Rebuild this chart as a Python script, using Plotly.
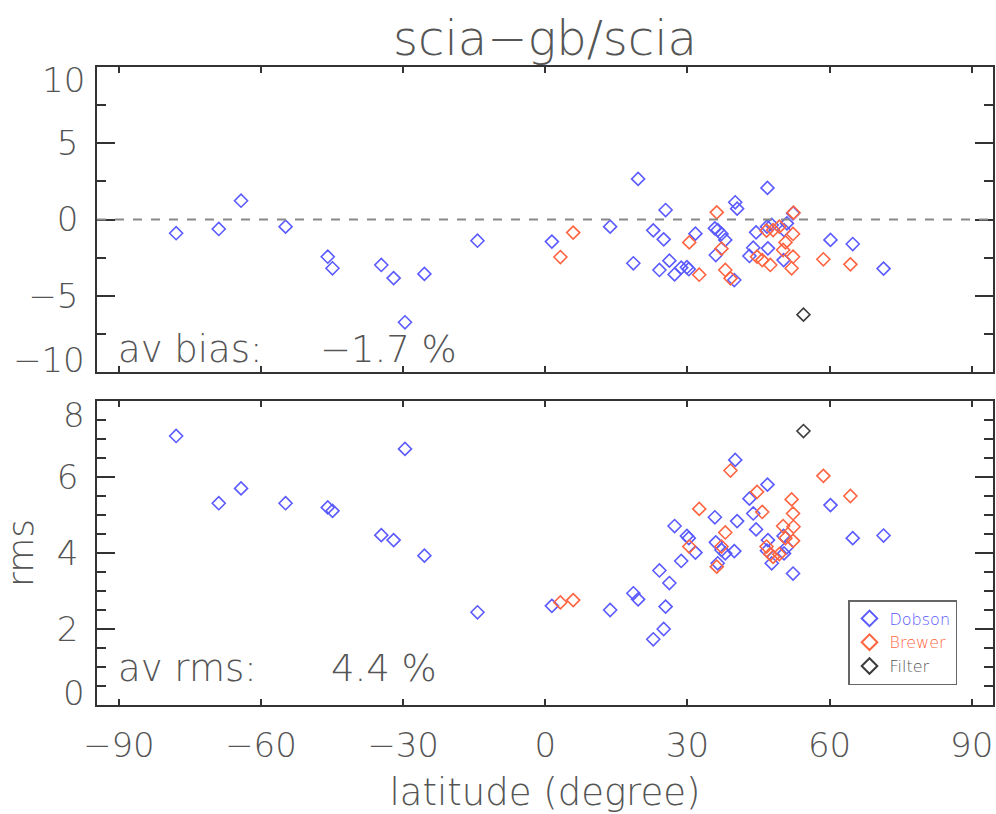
import plotly.graph_objects as go

# ---------------- data ----------------
dobson_lat = [-77.9, -68.9, -64.2, -54.8, -45.9, -44.9, -34.6, -32.0, -29.6, -25.5, -14.3,
              1.4, 13.7, 18.6, 19.6, 22.8, 24.1, 25.0, 25.4, 26.2, 27.3, 28.7, 29.9, 30.3, 31.7,
              35.8, 36.0, 36.4, 37.2, 38.0, 39.9, 40.1, 40.5, 43.1, 43.9, 44.5,
              46.8, 46.9, 47.0, 47.8, 50.3, 50.4, 51.0, 52.3, 60.2, 64.9, 71.4]
dobson_bias = [-0.90, -0.62, 1.23, -0.47, -2.44, -3.20, -2.98, -3.84, -6.74, -3.57, -1.39,
               -1.45, -0.47, -2.87, 2.66, -0.71, -3.31, -1.30, 0.62, -2.70, -3.60, -3.16, -3.13, -3.26, -0.93,
               -0.58, -2.33, -0.69, -0.95, -1.34, -3.97, 1.13, 0.71, -2.39, -1.85, -0.84,
               -0.47, 2.07, -1.89, -0.36, -2.66, -0.69, -0.25, 0.41, -1.34, -1.61, -3.22]
dobson_rms = [7.08, 5.31, 5.70, 5.31, 5.20, 5.11, 4.47, 4.34, 6.74, 3.93, 2.44,
              2.61, 2.50, 2.94, 2.78, 1.73, 3.54, 2.00, 2.59, 3.21, 4.71, 3.79, 4.45, 4.39, 4.01,
              4.94, 4.28, 3.73, 4.08, 3.99, 4.05, 6.45, 4.84, 5.43, 5.04, 4.62,
              4.06, 5.80, 4.34, 3.73, 4.45, 3.99, 4.15, 3.46, 5.26, 4.39, 4.46]

brewer_lat = [3.2, 5.9, 30.4, 32.5, 36.2, 37.2, 38.0, 39.1, 44.7, 45.8, 46.7,
              47.5, 48.1, 49.4, 50.2, 50.7, 52.0, 52.3, 52.3, 52.4, 58.7, 64.4]
brewer_bias = [-2.46, -0.86, -1.50, -3.62, 0.47, -1.91, -3.31, -3.86, -2.44, -2.66, -0.73,
               -2.98, -0.69, -0.47, -2.00, -1.50, -3.20, -0.95, -2.44, 0.45, -2.61, -2.94]
brewer_rms = [2.70, 2.76, 4.17, 5.16, 3.64, 4.17, 4.54, 6.17, 5.61, 5.08, 4.17,
              3.97, 3.90, 3.97, 4.71, 4.39, 5.41, 5.04, 4.32, 4.69, 6.03, 5.50]

filter_lat = [54.5]
filter_bias = [-6.24]
filter_rms = [7.21]

x_ticks = [-90, -60, -30, 0, 30, 60, 90]
x_ticktext = ["\u221290", "\u221260", "\u221230", "0", "30", "60", "90"]
bias_ticks = [-10, -5, 0, 5, 10]
bias_ticktext = ["", "\u22125", "0", "5", ""]
rms_ticks = [0, 2, 4, 6, 8]
rms_ticktext = ["", "2", "4", "6", ""]

av_bias_text = "\u22121.7 %"
av_rms_text = "4.4 %"

# ---------------- style ----------------
W, H = 996, 814
FONT = "DejaVu Sans ExtraLight, DejaVu Sans Light, Lato Light, Roboto Light, DejaVu Sans, sans-serif"
TXT = "#555555"
AX = "#333333"
C_DOB = "#5a5aff"
C_BRE = "#ff6440"
C_FIL = "#3c3c3c"

def px(x):
    return x / W

def py(y):
    return 1 - y / H

xdom = [px(97), px(993)]
top_dom = [py(372), py(67)]
bot_dom = [py(705), py(401)]

mk = dict(symbol="diamond-open", size=10)

fig = go.Figure()
for lat, b, r, name, col, lcol in [
    (dobson_lat, dobson_bias, dobson_rms, "Dobson", C_DOB, C_DOB),
    (brewer_lat, brewer_bias, brewer_rms, "Brewer", C_BRE, C_BRE),
    (filter_lat, filter_bias, filter_rms, "Filter", C_FIL, "#555555"),
]:
    fig.add_trace(go.Scatter(x=lat, y=b, mode="markers", xaxis="x", yaxis="y",
                             marker=dict(mk, color=col, line=dict(width=1.6, color=col)),
                             showlegend=False, name=name))
    fig.add_trace(go.Scatter(x=lat, y=r, mode="markers", xaxis="x2", yaxis="y2",
                             marker=dict(mk, color=col, line=dict(width=1.6, color=col)),
                             showlegend=True,
                             name=f"<span style='color:{lcol}'>{name}</span>"))

axis_common = dict(showline=True, linecolor=AX, linewidth=1.5, mirror="allticks",
                   ticks="inside", tickcolor=AX, tickwidth=1.5, showgrid=False, zeroline=False,
                   automargin=False,
                   tickfont=dict(family=FONT, size=34, color=TXT))

fig.update_layout(
    width=W, height=H, margin=dict(l=0, r=0, t=0, b=0, autoexpand=False),
    paper_bgcolor="white", plot_bgcolor="white",
    font=dict(family=FONT, color=TXT),
    title=dict(text="scia\u2212gb/scia", x=px(545), xanchor="center", y=py(38), yanchor="middle",
               xref="paper", yref="paper",
               font=dict(family=FONT, size=48, color=TXT)),
    xaxis=dict(axis_common, domain=xdom, anchor="y", range=[-94.6, 94.5],
               tickvals=x_ticks, showticklabels=False, ticklen=6),
    yaxis=dict(axis_common, domain=top_dom, anchor="x", range=[-10, 10],
               tickvals=bias_ticks, ticktext=bias_ticktext, ticklen=18, ticklabelstandoff=10,
               minor=dict(dtick=2.5, ticklen=9, ticks="inside", tickcolor=AX, tickwidth=1.5)),
    xaxis2=dict(axis_common, domain=xdom, anchor="y2", range=[-94.6, 94.5],
                tickvals=x_ticks, ticktext=x_ticktext, ticklen=6, ticklabelstandoff=9,
                title=dict(text="latitude (degree)", standoff=16,
                           font=dict(family=FONT, size=37, color=TXT))),
    yaxis2=dict(axis_common, domain=bot_dom, anchor="x2", range=[0, 8],
                tickvals=rms_ticks, ticktext=rms_ticktext, ticklen=18, ticklabelstandoff=10,
                minor=dict(dtick=0.5, ticklen=9, ticks="inside", tickcolor=AX, tickwidth=1.5),
                title=dict(text="rms", standoff=28, font=dict(family=FONT, size=36, color=TXT))),
    legend=dict(x=px(848), y=py(600), xanchor="left", yanchor="top",
                bordercolor="#666666", borderwidth=1.5, bgcolor="white",
                font=dict(family=FONT, size=16, color=TXT), itemsizing="constant",
                tracegroupgap=0),
    showlegend=True,
)

# zero line in the bias panel
fig.add_shape(type="line", xref="x domain", yref="y", x0=0, x1=1, y0=0, y1=0,
              line=dict(color="#888888", width=2, dash="dash"))

tick_font = dict(family=FONT, size=34, color=TXT)
ann_font = dict(family=FONT, size=37, color=TXT)
# end tick labels (shifted inward as in the reference)
for yref, yv, txt, shift in [("y", 10, "10", -13), ("y", -10, "\u221210", 12),
                             ("y2", 8, "8", -14), ("y2", 0, "0", 12)]:
    fig.add_annotation(xref="paper", x=px(87), xanchor="right", yref=yref, y=yv,
                       yanchor="middle", yshift=shift, text=txt, showarrow=False, font=tick_font)

fig.add_annotation(xref="paper", yref="paper", x=px(116), y=py(350), xanchor="left", yanchor="middle",
                   text="av bias:", showarrow=False, font=ann_font)
fig.add_annotation(xref="paper", yref="paper", x=px(318), y=py(350), xanchor="left", yanchor="middle",
                   text=av_bias_text, showarrow=False, font=ann_font)
fig.add_annotation(xref="paper", yref="paper", x=px(116), y=py(668), xanchor="left", yanchor="middle",
                   text="av rms:", showarrow=False, font=ann_font)
fig.add_annotation(xref="paper", yref="paper", x=px(329), y=py(668), xanchor="left", yanchor="middle",
                   text=av_rms_text, showarrow=False, font=ann_font)

# remove the browser's default page margin so the 996x814 figure fills the window exactly
fig.write_html("out.html", config={"displayModeBar": False},
               post_script="document.body.style.margin='0';document.body.style.overflow='hidden';")
